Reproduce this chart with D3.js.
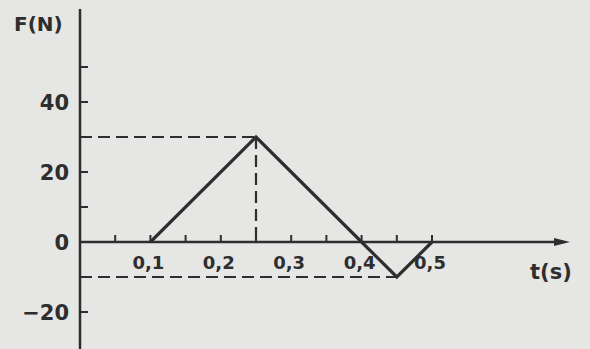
<!DOCTYPE html>
<html>
<head>
<meta charset="utf-8">
<script src="https://cdn.jsdelivr.net/npm/d3@7"></script>
<style>
  body { margin: 0; background: #e6e6e4; }
  text { font-family: "DejaVu Sans", sans-serif; fill: #2e2e2e; font-weight: bold; }
</style>
</head>
<body>
<div id="chart"></div>
<script>
const times = [0.1, 0.25, 0.4, 0.45, 0.5]
const forces = [0, 30, 0, -10, 0]
const xTicks = [0.05, 0.1, 0.15, 0.2, 0.25, 0.3, 0.35, 0.4, 0.45, 0.5]
const xLabels = [0.1, 0.2, 0.3, 0.4, 0.5]
const yTicks = [-20, -10, 10, 20, 30, 40, 50]
const yLabels = [-20, 0, 20, 40]

const width = 590
const height = 349
const ink = "#2e2e2e"

const svg = d3.select("#chart").append("svg")
  .attr("width", width).attr("height", height)

const x = d3.scaleLinear().domain([0, 0.5]).range([80, 432])
const y = d3.scaleLinear().domain([0, 40]).range([242, 102])

const pts = times.map((t, i) => ({ t: t, f: forces[i] }))
const peak = pts[1]
const low = pts[3]

// dashed guides
const dash = svg.append("g")
  .attr("stroke", ink).attr("stroke-width", 2.2).attr("stroke-dasharray", "12,6")
dash.append("line")
  .attr("x1", x(0)).attr("x2", x(peak.t))
  .attr("y1", y(peak.f)).attr("y2", y(peak.f))
dash.append("line")
  .attr("x1", x(peak.t)).attr("x2", x(peak.t))
  .attr("y1", y(peak.f)).attr("y2", y(0))
dash.append("line")
  .attr("x1", x(0)).attr("x2", x(low.t))
  .attr("y1", y(low.f)).attr("y2", y(low.f))

// axes
svg.append("line")
  .attr("x1", x(0)).attr("x2", x(0)).attr("y1", 9).attr("y2", height)
  .attr("stroke", ink).attr("stroke-width", 2.5)
svg.append("line")
  .attr("x1", x(0)).attr("x2", 560).attr("y1", y(0)).attr("y2", y(0))
  .attr("stroke", ink).attr("stroke-width", 2.5)
svg.append("path")
  .attr("d", `M570,${y(0)} L554,${y(0) - 4} L554,${y(0) + 4} Z`)
  .attr("fill", ink)

svg.append("g").selectAll("line").data(yTicks).join("line")
  .attr("x1", x(0)).attr("x2", x(0) + 8)
  .attr("y1", (d) => y(d)).attr("y2", (d) => y(d))
  .attr("stroke", ink).attr("stroke-width", 2)

svg.append("g").selectAll("line").data(xTicks).join("line")
  .attr("x1", (d) => x(d)).attr("x2", (d) => x(d))
  .attr("y1", y(0)).attr("y2", y(0) - 7)
  .attr("stroke", ink).attr("stroke-width", 2)

svg.append("g").selectAll("text").data(yLabels).join("text")
  .attr("x", 69).attr("y", (d) => y(d) + 8)
  .attr("text-anchor", "end").attr("font-size", 21)
  .text((d) => (d < 0 ? "\u2212" + Math.abs(d) : d))

svg.append("g").selectAll("text").data(xLabels).join("text")
  .attr("x", (d) => x(d) - 2).attr("y", y(0) + 27)
  .attr("text-anchor", "middle").attr("font-size", 18)
  .text((d) => String(d).replace(".", ","))

svg.append("text").attr("x", 14).attr("y", 31)
  .attr("font-size", 20).text("F(N)")
svg.append("text").attr("x", 530).attr("y", 279)
  .attr("font-size", 21).text("t(s)")

// force curve
const line = d3.line().x((d) => x(d.t)).y((d) => y(d.f))
svg.append("path").datum(pts)
  .attr("d", line)
  .attr("fill", "none").attr("stroke", ink).attr("stroke-width", 3.2)
  .attr("stroke-linejoin", "miter")
</script>
</body>
</html>
